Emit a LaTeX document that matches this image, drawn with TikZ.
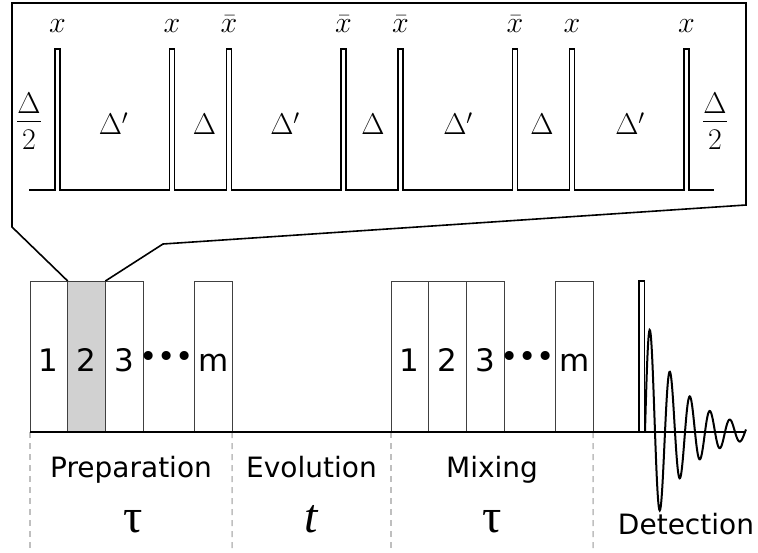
\RequirePackage{fix-cm}
\documentclass[tikz,border=0pt]{standalone}
\usepackage[no-math]{fontspec}
\newfontfamily\vs{DejaVu Sans}
\newfontfamily\tms{Liberation Serif}
\begin{document}
\begin{tikzpicture}[x=1pt,y=-1pt,
  ln/.style={line width=1.8pt, line join=miter, line cap=butt},
  ol/.style={line width=1.6pt, line join=miter},
  seg/.style={draw=black!75, line width=0.9pt, minimum width=37.7pt, minimum height=151pt, inner sep=0pt, outer sep=0pt, anchor=north west},
  hlseg/.style={seg, fill=black!18},
  num/.style={font=\vs\fontsize{31}{36}\selectfont, inner sep=0pt, anchor=base},
  lab/.style={font=\vs\fontsize{28}{34}\selectfont, inner sep=0pt, anchor=base},
  big/.style={font=\tms\fontsize{48}{56}\selectfont, inner sep=0pt, anchor=base},
  im/.style={font=\fontsize{30}{36}\selectfont, inner sep=0pt, anchor=base},
  sepline/.style={draw=black!25, line width=1.5pt, dash pattern=on 6pt off 5pt},
]
\useasboundingbox (0,0) rectangle (758,553);

% ---------- inset ----------
\draw[ln] (29,190) foreach \c in {57.5,172,229,343.5,400.5,515,572,686.5}{ -- (\c-2.5,190) -- (\c-2.5,49) -- (\c+2.5,49) -- (\c+2.5,190)} -- (714,190);

\foreach \c/\n in {57.5/1,172/2,572/7,686.5/8}
  \node[im] (lx\n) at (\c,33) {$x$};
\foreach \c/\n in {229/3,343.5/4,400.5/5,515/6}
  \node[im] (lx\n) at (\c,33) {$\bar{x}$};

\foreach \c/\n in {113.5/1,285/2,458/3,630/4}
  \node[im] (dp\n) at (\c,135) {$\Delta'$};
\foreach \c/\n in {204.5/1,373/2,542/3}
  \node[im] (dd\n) at (\c,135) {$\Delta$};

\node[im] (hfl) at (29,128.5) {$\displaystyle\frac{\raisebox{-5pt}{$\Delta$}}{2}$};
\node[im] (hfr) at (715,128.5) {$\displaystyle\frac{\raisebox{-5pt}{$\Delta$}}{2}$};

% ---------- lower sequence ----------
\node[seg]   (p1) at (30,281) {};
\node[hlseg] (p2) at (67.7,281) {};
\node[seg]   (p3) at (105.4,281) {};
\node[seg]   (pm) at (194.3,281) {};
\node[seg]   (q1) at (391,281) {};
\node[seg]   (q2) at (428.7,281) {};
\node[seg]   (q3) at (466.4,281) {};
\node[seg]   (qm) at (555.3,281) {};

\node[num] (n1) at (48.85,371) {1};
\node[num] (n2) at (86.55,371) {2};
\node[num] (n3) at (124.25,371) {3};
\node[num] (nd) at (166.5,368) {•••};
\node[num] (nm) at (213.15,371) {m};
\node[num] (r1) at (409.85,371) {1};
\node[num] (r2) at (447.55,371) {2};
\node[num] (r3) at (485.25,371) {3};
\node[num] (rd) at (527.5,368) {•••};
\node[num] (rm) at (574.15,371) {m};

% zoom outline
\coordinate (k1) at (12,227);
\coordinate (k2) at (12,3);
\coordinate (k3) at (746,3);
\coordinate (k4) at (746,205);
\coordinate (k5) at (163,244);
\draw[ol] (p2.north west) -- (k1) -- (k2) -- (k3) -- (k4) -- (k5) -- (p2.north east);

% dashed separators
\coordinate (b1) at (30,553);
\coordinate (b2) at (232,553);
\coordinate (b3) at (391,553);
\coordinate (b4) at (593,553);
\draw[sepline] (p1.south west) -- (b1);
\draw[sepline] (pm.south east) -- (b2);
\draw[sepline] (q1.south west) -- (b3);
\draw[sepline] (qm.south east) -- (b4);

% baseline
\coordinate (e) at (746,432);
\draw[line width=1.6pt] (p1.south west) -- (e);

% detection pulse and FID
\draw[ln, fill=white] (639,432) rectangle (644.5,281);
\draw[line width=2pt] plot[domain=645:746, samples=220, smooth] (\x,{432-116*exp(-(\x-645)/38)*sin(18*(\x-645))});

% labels
\node[lab] (prep) at (131,477.7) {Preparation};
\node[lab] (evol) at (311.5,477.7) {Evolution};
\node[lab] (mix)  at (492,477.7) {Mixing};
\node[lab] (det)  at (686,534) {Detection};
\node[big] (tau1) at (133,532) {τ};
\node[big] (tt)   at (311,532) {\itshape t};
\node[big] (tau2) at (492,532) {τ};
\end{tikzpicture}
\end{document}
